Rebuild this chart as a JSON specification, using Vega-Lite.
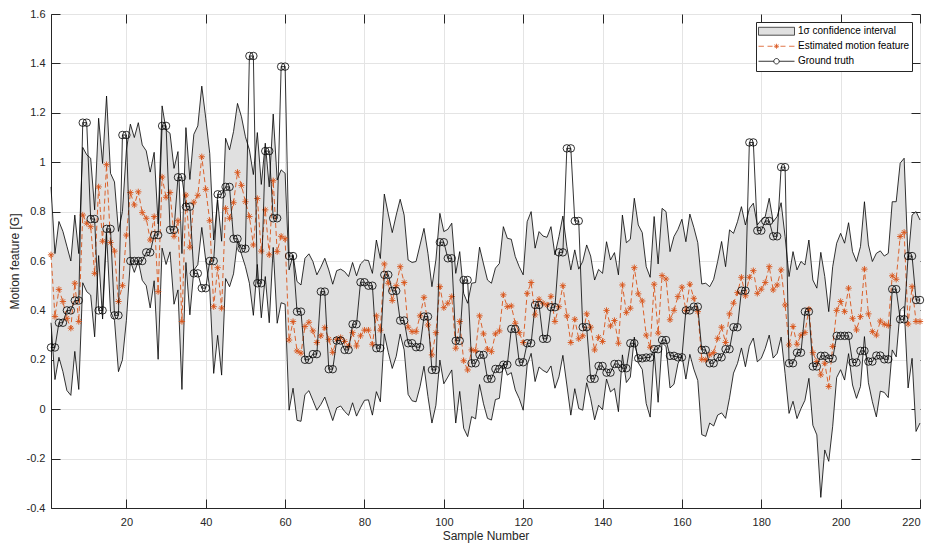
{
"$schema": "https://vega.github.io/schema/vega-lite/v6.json",
"width": 869, "height": 494,
"autosize": {"type": "none"},
"padding": {"left": 51, "top": 14, "right": 5, "bottom": 37},
"background": "white",
"config": {
 "font": "Liberation Sans",
 "view": {"stroke": "#262626", "strokeWidth": 1},
 "axis": {"domainColor": "#262626", "tickColor": "#262626", "labelColor": "#262626", "titleColor": "#262626", "gridColor": "#e4e4e4", "labelFont": "Liberation Sans", "titleFont": "Liberation Sans", "labelFontSize": 11, "titleFontSize": 12, "titleFontWeight": "normal", "tickSize": -9, "domainWidth": 1, "tickWidth": 1}
},
"datasets": {
 "legendrows": [{"s": "1σ confidence interval"}, {"s": "Estimated motion feature"}, {"s": "Ground truth"}]
},
"data": {"values": [
{"i":1,"gt":0.25,"est":0.625,"up":0.9,"lo":0.35},
{"i":2,"gt":0.25,"est":0.375,"up":0.63,"lo":0.12},
{"i":3,"gt":0.35,"est":0.485,"up":0.76,"lo":0.21},
{"i":4,"gt":0.35,"est":0.436,"up":0.72,"lo":0.152},
{"i":5,"gt":0.4,"est":0.368,"up":0.66,"lo":0.076},
{"i":6,"gt":0.4,"est":0.328,"up":0.6,"lo":0.056},
{"i":7,"gt":0.44,"est":0.51,"up":0.786,"lo":0.234},
{"i":8,"gt":0.44,"est":0.355,"up":0.63,"lo":0.08},
{"i":9,"gt":1.16,"est":0.786,"up":1.06,"lo":0.512},
{"i":10,"gt":1.16,"est":0.753,"up":1.03,"lo":0.476},
{"i":11,"gt":0.77,"est":0.739,"up":1.016,"lo":0.462},
{"i":12,"gt":0.77,"est":0.55,"up":0.807,"lo":0.293},
{"i":13,"gt":0.4,"est":0.9,"up":1.178,"lo":0.622},
{"i":14,"gt":0.4,"est":0.68,"up":0.995,"lo":0.365},
{"i":15,"gt":0.73,"est":0.99,"up":1.268,"lo":0.712},
{"i":16,"gt":0.73,"est":0.675,"up":0.955,"lo":0.395},
{"i":17,"gt":0.38,"est":0.64,"up":0.92,"lo":0.36},
{"i":18,"gt":0.38,"est":0.436,"up":0.72,"lo":0.152},
{"i":19,"gt":1.11,"est":0.5,"up":0.8,"lo":0.2},
{"i":20,"gt":1.11,"est":0.705,"up":1.05,"lo":0.36},
{"i":21,"gt":0.6,"est":0.877,"up":1.154,"lo":0.6},
{"i":22,"gt":0.6,"est":0.827,"up":1.1,"lo":0.554},
{"i":23,"gt":0.6,"est":0.88,"up":1.16,"lo":0.6},
{"i":24,"gt":0.6,"est":0.796,"up":1.07,"lo":0.522},
{"i":25,"gt":0.635,"est":0.773,"up":1.046,"lo":0.5},
{"i":26,"gt":0.635,"est":0.685,"up":0.96,"lo":0.41},
{"i":27,"gt":0.705,"est":0.78,"up":1.04,"lo":0.52},
{"i":28,"gt":0.705,"est":0.476,"up":0.75,"lo":0.202},
{"i":29,"gt":1.147,"est":0.94,"up":1.228,"lo":0.652},
{"i":30,"gt":1.147,"est":0.858,"up":1.13,"lo":0.586},
{"i":31,"gt":0.726,"est":0.877,"up":1.117,"lo":0.637},
{"i":32,"gt":0.726,"est":0.7,"up":0.975,"lo":0.425},
{"i":33,"gt":0.939,"est":0.763,"up":1.043,"lo":0.483},
{"i":34,"gt":0.939,"est":0.355,"up":0.63,"lo":0.08},
{"i":35,"gt":0.82,"est":0.867,"up":1.14,"lo":0.594},
{"i":36,"gt":0.82,"est":0.656,"up":0.93,"lo":0.382},
{"i":37,"gt":0.55,"est":0.838,"up":1.113,"lo":0.563},
{"i":38,"gt":0.55,"est":0.866,"up":1.147,"lo":0.585},
{"i":39,"gt":0.49,"est":1.022,"up":1.308,"lo":0.736},
{"i":40,"gt":0.49,"est":0.89,"up":1.178,"lo":0.602},
{"i":41,"gt":0.6,"est":0.763,"up":1.036,"lo":0.49},
{"i":42,"gt":0.6,"est":0.415,"up":0.685,"lo":0.145},
{"i":43,"gt":0.87,"est":0.573,"up":0.847,"lo":0.299},
{"i":44,"gt":0.87,"est":0.409,"up":0.68,"lo":0.138},
{"i":45,"gt":0.9,"est":0.813,"up":1.097,"lo":0.529},
{"i":46,"gt":0.9,"est":0.773,"up":1.05,"lo":0.496},
{"i":47,"gt":0.69,"est":0.836,"up":1.124,"lo":0.548},
{"i":48,"gt":0.69,"est":0.959,"up":1.238,"lo":0.68},
{"i":49,"gt":0.65,"est":0.906,"up":1.184,"lo":0.628},
{"i":50,"gt":0.65,"est":0.84,"up":1.103,"lo":0.577},
{"i":51,"gt":1.43,"est":0.78,"up":1.05,"lo":0.51},
{"i":52,"gt":1.43,"est":0.665,"up":0.95,"lo":0.38},
{"i":53,"gt":0.51,"est":0.853,"up":1.12,"lo":0.586},
{"i":54,"gt":0.51,"est":0.64,"up":0.91,"lo":0.37},
{"i":55,"gt":1.045,"est":0.807,"up":1.077,"lo":0.537},
{"i":56,"gt":1.045,"est":0.625,"up":0.9,"lo":0.35},
{"i":57,"gt":0.773,"est":0.925,"up":1.195,"lo":0.655},
{"i":58,"gt":0.773,"est":0.638,"up":0.928,"lo":0.348},
{"i":59,"gt":1.387,"est":0.7,"up":0.969,"lo":0.431},
{"i":60,"gt":1.387,"est":0.69,"up":0.955,"lo":0.425},
{"i":61,"gt":0.62,"est":0.28,"up":0.564,"lo":-0.004},
{"i":62,"gt":0.62,"est":0.355,"up":0.625,"lo":0.085},
{"i":63,"gt":0.395,"est":0.236,"up":0.517,"lo":-0.045},
{"i":64,"gt":0.395,"est":0.227,"up":0.503,"lo":-0.049},
{"i":65,"gt":0.2,"est":0.335,"up":0.611,"lo":0.059},
{"i":66,"gt":0.2,"est":0.352,"up":0.629,"lo":0.075},
{"i":67,"gt":0.223,"est":0.317,"up":0.598,"lo":0.036},
{"i":68,"gt":0.223,"est":0.27,"up":0.544,"lo":-0.004},
{"i":69,"gt":0.476,"est":0.297,"up":0.575,"lo":0.019},
{"i":70,"gt":0.476,"est":0.33,"up":0.611,"lo":0.049},
{"i":71,"gt":0.162,"est":0.283,"up":0.564,"lo":0.002},
{"i":72,"gt":0.162,"est":0.23,"up":0.506,"lo":-0.046},
{"i":73,"gt":0.278,"est":0.283,"up":0.561,"lo":0.005},
{"i":74,"gt":0.278,"est":0.29,"up":0.567,"lo":0.013},
{"i":75,"gt":0.24,"est":0.274,"up":0.557,"lo":-0.009},
{"i":76,"gt":0.24,"est":0.256,"up":0.537,"lo":-0.025},
{"i":77,"gt":0.344,"est":0.31,"up":0.594,"lo":0.026},
{"i":78,"gt":0.344,"est":0.256,"up":0.54,"lo":-0.028},
{"i":79,"gt":0.514,"est":0.297,"up":0.588,"lo":0.006},
{"i":80,"gt":0.514,"est":0.32,"up":0.604,"lo":0.036},
{"i":81,"gt":0.5,"est":0.32,"up":0.602,"lo":0.038},
{"i":82,"gt":0.5,"est":0.263,"up":0.55,"lo":-0.024},
{"i":83,"gt":0.247,"est":0.378,"up":0.685,"lo":0.071},
{"i":84,"gt":0.247,"est":0.32,"up":0.61,"lo":0.03},
{"i":85,"gt":0.544,"est":0.588,"up":0.871,"lo":0.305},
{"i":86,"gt":0.544,"est":0.51,"up":0.79,"lo":0.23},
{"i":87,"gt":0.479,"est":0.44,"up":0.715,"lo":0.165},
{"i":88,"gt":0.479,"est":0.5,"up":0.786,"lo":0.214},
{"i":89,"gt":0.359,"est":0.577,"up":0.85,"lo":0.304},
{"i":90,"gt":0.359,"est":0.513,"up":0.786,"lo":0.24},
{"i":91,"gt":0.267,"est":0.332,"up":0.604,"lo":0.06},
{"i":92,"gt":0.267,"est":0.314,"up":0.594,"lo":0.034},
{"i":93,"gt":0.251,"est":0.314,"up":0.598,"lo":0.03},
{"i":94,"gt":0.251,"est":0.378,"up":0.665,"lo":0.091},
{"i":95,"gt":0.375,"est":0.453,"up":0.732,"lo":0.174},
{"i":96,"gt":0.375,"est":0.341,"up":0.631,"lo":0.051},
{"i":97,"gt":0.159,"est":0.22,"up":0.496,"lo":-0.056},
{"i":98,"gt":0.159,"est":0.31,"up":0.604,"lo":0.016},
{"i":99,"gt":0.676,"est":0.496,"up":0.793,"lo":0.199},
{"i":100,"gt":0.676,"est":0.411,"up":0.719,"lo":0.103},
{"i":101,"gt":0.611,"est":0.429,"up":0.728,"lo":0.13},
{"i":102,"gt":0.611,"est":0.456,"up":0.753,"lo":0.159},
{"i":103,"gt":0.277,"est":0.247,"up":0.55,"lo":-0.056},
{"i":104,"gt":0.277,"est":0.355,"up":0.638,"lo":0.072},
{"i":105,"gt":0.523,"est":0.196,"up":0.469,"lo":-0.077},
{"i":106,"gt":0.523,"est":0.159,"up":0.429,"lo":-0.111},
{"i":107,"gt":0.186,"est":0.24,"up":0.51,"lo":-0.03},
{"i":108,"gt":0.186,"est":0.237,"up":0.513,"lo":-0.039},
{"i":109,"gt":0.22,"est":0.378,"up":0.656,"lo":0.1},
{"i":110,"gt":0.22,"est":0.305,"up":0.588,"lo":0.022},
{"i":111,"gt":0.123,"est":0.243,"up":0.523,"lo":-0.037},
{"i":112,"gt":0.123,"est":0.233,"up":0.51,"lo":-0.044},
{"i":113,"gt":0.163,"est":0.305,"up":0.571,"lo":0.039},
{"i":114,"gt":0.163,"est":0.317,"up":0.59,"lo":0.044},
{"i":115,"gt":0.18,"est":0.463,"up":0.739,"lo":0.187},
{"i":116,"gt":0.18,"est":0.415,"up":0.692,"lo":0.138},
{"i":117,"gt":0.325,"est":0.418,"up":0.688,"lo":0.148},
{"i":118,"gt":0.325,"est":0.348,"up":0.618,"lo":0.078},
{"i":119,"gt":0.19,"est":0.31,"up":0.577,"lo":0.043},
{"i":120,"gt":0.19,"est":0.27,"up":0.544,"lo":-0.004},
{"i":121,"gt":0.267,"est":0.469,"up":0.759,"lo":0.179},
{"i":122,"gt":0.267,"est":0.513,"up":0.8,"lo":0.226},
{"i":123,"gt":0.422,"est":0.382,"up":0.652,"lo":0.112},
{"i":124,"gt":0.422,"est":0.445,"up":0.719,"lo":0.171},
{"i":125,"gt":0.285,"est":0.429,"up":0.701,"lo":0.157},
{"i":126,"gt":0.285,"est":0.422,"up":0.696,"lo":0.148},
{"i":127,"gt":0.413,"est":0.457,"up":0.739,"lo":0.175},
{"i":128,"gt":0.413,"est":0.355,"up":0.625,"lo":0.085},
{"i":129,"gt":0.635,"est":0.415,"up":0.699,"lo":0.131},
{"i":130,"gt":0.635,"est":0.5,"up":0.782,"lo":0.218},
{"i":131,"gt":1.056,"est":0.378,"up":0.658,"lo":0.098},
{"i":132,"gt":1.056,"est":0.27,"up":0.564,"lo":-0.024},
{"i":133,"gt":0.762,"est":0.364,"up":0.645,"lo":0.083},
{"i":134,"gt":0.762,"est":0.285,"up":0.567,"lo":0.003},
{"i":135,"gt":0.332,"est":0.297,"up":0.598,"lo":-0.004},
{"i":136,"gt":0.332,"est":0.386,"up":0.665,"lo":0.107},
{"i":137,"gt":0.123,"est":0.332,"up":0.62,"lo":0.044},
{"i":138,"gt":0.123,"est":0.24,"up":0.523,"lo":-0.043},
{"i":139,"gt":0.175,"est":0.291,"up":0.566,"lo":0.016},
{"i":140,"gt":0.175,"est":0.274,"up":0.55,"lo":-0.002},
{"i":141,"gt":0.148,"est":0.4,"up":0.678,"lo":0.122},
{"i":142,"gt":0.148,"est":0.337,"up":0.604,"lo":0.07},
{"i":143,"gt":0.183,"est":0.359,"up":0.634,"lo":0.084},
{"i":144,"gt":0.183,"est":0.267,"up":0.544,"lo":-0.01},
{"i":145,"gt":0.166,"est":0.503,"up":0.786,"lo":0.22},
{"i":146,"gt":0.166,"est":0.391,"up":0.674,"lo":0.108},
{"i":147,"gt":0.267,"est":0.409,"up":0.688,"lo":0.13},
{"i":148,"gt":0.267,"est":0.573,"up":0.854,"lo":0.292},
{"i":149,"gt":0.206,"est":0.467,"up":0.746,"lo":0.188},
{"i":150,"gt":0.206,"est":0.438,"up":0.715,"lo":0.161},
{"i":151,"gt":0.209,"est":0.3,"up":0.577,"lo":0.023},
{"i":152,"gt":0.209,"est":0.251,"up":0.534,"lo":-0.032},
{"i":153,"gt":0.243,"est":0.506,"up":0.78,"lo":0.232},
{"i":154,"gt":0.243,"est":0.308,"up":0.588,"lo":0.028},
{"i":155,"gt":0.28,"est":0.541,"up":0.813,"lo":0.269},
{"i":156,"gt":0.28,"est":0.527,"up":0.8,"lo":0.254},
{"i":157,"gt":0.216,"est":0.362,"up":0.638,"lo":0.086},
{"i":158,"gt":0.216,"est":0.4,"up":0.699,"lo":0.101},
{"i":159,"gt":0.21,"est":0.456,"up":0.728,"lo":0.184},
{"i":160,"gt":0.21,"est":0.494,"up":0.769,"lo":0.219},
{"i":161,"gt":0.4,"est":0.4,"up":0.678,"lo":0.122},
{"i":162,"gt":0.4,"est":0.506,"up":0.79,"lo":0.222},
{"i":163,"gt":0.415,"est":0.449,"up":0.736,"lo":0.162},
{"i":164,"gt":0.415,"est":0.395,"up":0.674,"lo":0.116},
{"i":165,"gt":0.24,"est":0.202,"up":0.507,"lo":-0.103},
{"i":166,"gt":0.24,"est":0.2,"up":0.51,"lo":-0.11},
{"i":167,"gt":0.186,"est":0.22,"up":0.496,"lo":-0.056},
{"i":168,"gt":0.186,"est":0.229,"up":0.526,"lo":-0.068},
{"i":169,"gt":0.21,"est":0.287,"up":0.598,"lo":-0.024},
{"i":170,"gt":0.21,"est":0.332,"up":0.679,"lo":-0.015},
{"i":171,"gt":0.243,"est":0.27,"up":0.577,"lo":-0.037},
{"i":172,"gt":0.243,"est":0.386,"up":0.726,"lo":0.046},
{"i":173,"gt":0.332,"est":0.429,"up":0.712,"lo":0.146},
{"i":174,"gt":0.332,"est":0.472,"up":0.759,"lo":0.185},
{"i":175,"gt":0.48,"est":0.534,"up":0.82,"lo":0.248},
{"i":176,"gt":0.48,"est":0.459,"up":0.746,"lo":0.172},
{"i":177,"gt":1.08,"est":0.534,"up":0.813,"lo":0.255},
{"i":178,"gt":1.08,"est":0.561,"up":0.834,"lo":0.288},
{"i":179,"gt":0.723,"est":0.469,"up":0.746,"lo":0.192},
{"i":180,"gt":0.723,"est":0.486,"up":0.766,"lo":0.206},
{"i":181,"gt":0.762,"est":0.513,"up":0.78,"lo":0.246},
{"i":182,"gt":0.762,"est":0.577,"up":0.854,"lo":0.3},
{"i":183,"gt":0.7,"est":0.483,"up":0.759,"lo":0.207},
{"i":184,"gt":0.7,"est":0.503,"up":0.78,"lo":0.226},
{"i":185,"gt":0.98,"est":0.564,"up":0.836,"lo":0.292},
{"i":186,"gt":0.98,"est":0.422,"up":0.699,"lo":0.145},
{"i":187,"gt":0.186,"est":0.26,"up":0.537,"lo":-0.017},
{"i":188,"gt":0.186,"est":0.335,"up":0.638,"lo":0.032},
{"i":189,"gt":0.229,"est":0.263,"up":0.564,"lo":-0.038},
{"i":190,"gt":0.229,"est":0.3,"up":0.598,"lo":0.002},
{"i":191,"gt":0.395,"est":0.31,"up":0.584,"lo":0.036},
{"i":192,"gt":0.395,"est":0.405,"up":0.685,"lo":0.125},
{"i":193,"gt":0.173,"est":0.229,"up":0.523,"lo":-0.065},
{"i":194,"gt":0.173,"est":0.193,"up":0.49,"lo":-0.104},
{"i":195,"gt":0.216,"est":0.139,"up":0.635,"lo":-0.357},
{"i":196,"gt":0.216,"est":0.186,"up":0.537,"lo":-0.165},
{"i":197,"gt":0.205,"est":0.092,"up":0.395,"lo":-0.211},
{"i":198,"gt":0.205,"est":0.254,"up":0.577,"lo":-0.069},
{"i":199,"gt":0.297,"est":0.4,"up":0.672,"lo":0.128},
{"i":200,"gt":0.297,"est":0.436,"up":0.712,"lo":0.16},
{"i":201,"gt":0.297,"est":0.395,"up":0.672,"lo":0.118},
{"i":202,"gt":0.297,"est":0.49,"up":0.755,"lo":0.225},
{"i":203,"gt":0.189,"est":0.368,"up":0.638,"lo":0.098},
{"i":204,"gt":0.189,"est":0.321,"up":0.598,"lo":0.044},
{"i":205,"gt":0.236,"est":0.375,"up":0.658,"lo":0.092},
{"i":206,"gt":0.236,"est":0.567,"up":0.84,"lo":0.294},
{"i":207,"gt":0.193,"est":0.386,"up":0.665,"lo":0.107},
{"i":208,"gt":0.193,"est":0.314,"up":0.598,"lo":0.03},
{"i":209,"gt":0.217,"est":0.3,"up":0.631,"lo":-0.031},
{"i":210,"gt":0.217,"est":0.357,"up":0.641,"lo":0.073},
{"i":211,"gt":0.202,"est":0.344,"up":0.62,"lo":0.068},
{"i":212,"gt":0.202,"est":0.339,"up":0.631,"lo":0.047},
{"i":213,"gt":0.486,"est":0.54,"up":0.84,"lo":0.24},
{"i":214,"gt":0.486,"est":0.526,"up":0.84,"lo":0.212},
{"i":215,"gt":0.364,"est":0.699,"up":0.996,"lo":0.402},
{"i":216,"gt":0.364,"est":0.716,"up":1.016,"lo":0.416},
{"i":217,"gt":0.62,"est":0.345,"up":0.604,"lo":0.086},
{"i":218,"gt":0.62,"est":0.496,"up":0.786,"lo":0.206},
{"i":219,"gt":0.442,"est":0.355,"up":0.8,"lo":-0.09},
{"i":220,"gt":0.442,"est":0.355,"up":0.766,"lo":-0.056}
]},
"resolve": {"axis": {"x": "independent", "y": "independent"}},
"layer": [
 {"mark": {"type": "area", "color": "#e0e0e0", "opacity": 1},
  "encoding": {
   "x": {"field": "i", "type": "quantitative", "scale": {"domain": [1, 220], "nice": false, "zero": false},
         "axis": {"orient": "bottom", "title": "Sample Number", "values": [20,40,60,80,100,120,140,160,180,200,220], "grid": true, "labelPadding": 17, "titlePadding": 3}},
   "y": {"field": "lo", "type": "quantitative", "scale": {"domain": [-0.4, 1.6], "nice": false, "zero": false},
         "axis": {"orient": "left", "title": "Motion feature [G]", "values": [-0.4,-0.2,0,0.2,0.4,0.6,0.8,1,1.2,1.4,1.6], "labelExpr": "'' + datum.value", "grid": true, "labelPadding": 15, "titlePadding": 5}},
   "y2": {"field": "up"}
  }},
 {"mark": {"type": "line", "color": "#000000", "strokeWidth": 0.8},
  "encoding": {
   "x": {"field": "i", "type": "quantitative", "axis": {"orient": "top", "labels": false, "title": null, "grid": false, "domain": false, "values": [20,40,60,80,100,120,140,160,180,200,220]}},
   "y": {"field": "up", "type": "quantitative", "axis": {"orient": "right", "labels": false, "title": null, "grid": false, "domain": false, "values": [-0.4,-0.2,0,0.2,0.4,0.6,0.8,1,1.2,1.4,1.6]}}
  }},
 {"mark": {"type": "line", "color": "#000000", "strokeWidth": 0.8},
  "encoding": {
   "x": {"field": "i", "type": "quantitative", "axis": null},
   "y": {"field": "lo", "type": "quantitative", "axis": null}
  }},
 {"mark": {"type": "line", "color": "#d95319", "strokeWidth": 0.9, "strokeDash": [5, 3]},
  "encoding": {
   "x": {"field": "i", "type": "quantitative", "axis": null},
   "y": {"field": "est", "type": "quantitative", "axis": null}
  }},
 {"mark": {"type": "point", "shape": "M-1,0L1,0M0,-1L0,1M-0.7,-0.7L0.7,0.7M-0.7,0.7L0.7,-0.7", "size": 40, "filled": false, "color": "#d95319", "strokeWidth": 0.9, "opacity": 1},
  "encoding": {
   "x": {"field": "i", "type": "quantitative", "axis": null},
   "y": {"field": "est", "type": "quantitative", "axis": null}
  }},
 {"mark": {"type": "line", "color": "#000000", "strokeWidth": 0.8},
  "encoding": {
   "x": {"field": "i", "type": "quantitative", "axis": null},
   "y": {"field": "gt", "type": "quantitative", "axis": null}
  }},
 {"mark": {"type": "point", "shape": "circle", "size": 56, "filled": false, "color": "#000000", "strokeWidth": 0.8, "opacity": 1},
  "encoding": {
   "x": {"field": "i", "type": "quantitative", "axis": null},
   "y": {"field": "gt", "type": "quantitative", "axis": null}
  }},
 {"data": {"name": "legendrows"},
  "mark": {"type": "point", "size": 1296, "strokeWidth": 0.8, "opacity": 1},
  "encoding": {
   "x": {"field": "lx", "type": "quantitative", "axis": null},
   "y": {"field": "ly", "type": "quantitative", "axis": null},
   "shape": {"field": "s", "type": "nominal",
     "scale": {"domain": ["1σ confidence interval", "Estimated motion feature", "Ground truth"],
               "range": ["M-1,-0.22L1,-0.22L1,0.22L-1,0.22Z",
                         "M-1,0L-0.7,0M-0.5,0L-0.22,0M0.22,0L0.5,0M0.7,0L1,0M-0.14,0L0.14,0M0,-0.14L0,0.14M-0.1,-0.1L0.1,0.1M-0.1,0.1L0.1,-0.1",
                         "M-1,0L-0.15,0M0.15,0L1,0M0.15,0A0.15,0.15 0 1 1 -0.15,0A0.15,0.15 0 1 1 0.15,0"]},
     "legend": {"title": null, "orient": "top-right", "offset": 8, "padding": 2, "strokeColor": "#262626", "fillColor": "white",
       "labelFont": "Liberation Sans", "labelFontSize": 10, "labelColor": "#000000", "labelOffset": 3,
       "symbolSize": 1296, "symbolStrokeWidth": 0.8, "symbolOpacity": 1, "clipHeight": 14.5, "rowPadding": 0}},
   "stroke": {"field": "s", "type": "nominal",
     "scale": {"domain": ["1σ confidence interval", "Estimated motion feature", "Ground truth"], "range": ["#262626", "#d95319", "#000000"]}},
   "fill": {"field": "s", "type": "nominal",
     "scale": {"domain": ["1σ confidence interval", "Estimated motion feature", "Ground truth"], "range": ["#e0e0e0", "transparent", "transparent"]}}
  }}
]
}
